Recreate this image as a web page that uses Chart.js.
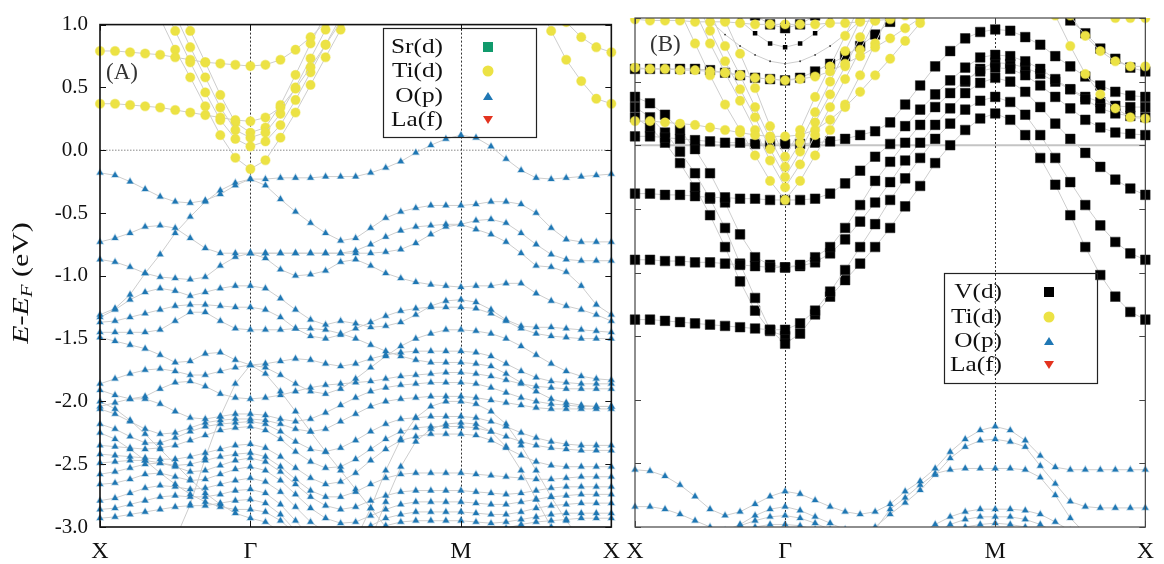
<!DOCTYPE html>
<html>
<head>
<meta charset="utf-8">
<script src="https://cdn.jsdelivr.net/npm/chart.js@4.4.0/dist/chart.umd.min.js"></script>
<style>
  body { margin: 0; background: #fff; }
  canvas { position: absolute; top: 0; }
  #panelA { left: 0; }
  #panelB { left: 615px; }
</style>
</head>
<body>
<canvas id="panelA" width="630" height="564"></canvas>
<canvas id="panelB" width="549" height="564"></canvas>
<script>
// k-path: 35 points, X(0) -> Γ(10) -> M(24) -> X(34)
const N = null;
const K_INDEX = [0, 10, 24, 34];
const K_LABEL = ['X', 'Γ', 'M', 'X'];
const NK = 35;
const Y_MIN = -3, Y_MAX = 1, Y_STEP = 0.5;

const LEGEND_A = ['Sr(d)', 'Ti(d)', 'O(p)', 'La(f)'];
const LEGEND_B = ['V(d)', 'Ti(d)', 'O(p)', 'La(f)'];

// ---- panel (A): Ti(d) bands ----
const aTi = [
  [0.79,0.79,0.78,0.77,0.76,0.74,0.72,0.70,0.69,0.68,0.67, 0.68,0.72,0.80,0.90,1.02,N,N,N,N,N,N,N,N,N, N,N,N,N,N,N,N,N,N,N],
  [0.37,0.37,0.36,0.35,0.34,0.32,0.30,0.28,0.26,0.24,0.23, 0.26,0.34,0.49,0.66,0.84,1.02,N,N,N,N,N,N,N,N, N,N,N,N,N,N,N,N,N,N],
  [N,N,N,N,1.05,0.80,0.58,0.35,0.12,-0.06,-0.15, -0.08,0.10,0.30,0.52,0.74,0.96,1.15,N,N,N,N,N,N,N, N,N,N,N,N,N,N,N,N,N],
  [N,N,N,N,1.20,0.95,0.70,0.46,0.24,0.09,0.03, 0.07,0.20,0.40,0.62,0.84,1.06,N,N,N,N,N,N,N,N, N,N,N,N,N,N,N,N,N,N],
  [N,N,N,N,N,1.08,0.82,0.58,0.34,0.16,0.10, 0.14,0.29,0.50,0.73,0.96,1.15,N,N,N,N,N,N,N,N, N,N,N,N,N,N,N,N,N,N],
  [N,N,N,N,N,1.20,0.95,0.70,0.44,0.22,0.14, 0.18,0.36,0.60,0.85,1.08,N,N,N,N,N,N,N,N,N, N,N,N,N,N,N,N,N,N,N],
  [N,N,N,N,N,N,N,N,N,N,N, N,N,N,N,N,N,N,N,N,N,N,N,N,N, N,N,N,N,N,1.12,1.02,0.90,0.82,0.78],
  [N,N,N,N,N,N,N,N,N,N,N, N,N,N,N,N,N,N,N,N,N,N,N,N,N, N,N,N,N,1.20,0.95,0.72,0.55,0.41,0.37]
];

// ---- panel (A): O(p) bands ----
const aO = [
  [-0.18,-0.20,-0.25,-0.31,-0.37,-0.41,-0.42,-0.40,-0.35,-0.28,-0.23, -0.23,-0.22,-0.22,-0.22,-0.21,-0.21,-0.21,-0.18,-0.14,-0.09,-0.02,0.04,0.09,0.12, 0.10,0.03,-0.07,-0.16,-0.22,-0.23,-0.22,-0.21,-0.20,-0.19],
  [-1.31,-1.26,-1.15,-0.98,-0.83,-0.66,-0.53,-0.41,-0.32,-0.26,-0.23, -0.28,-0.39,-0.49,-0.58,-0.66,-0.72,-0.70,-0.62,-0.54,-0.49,-0.46,-0.44,-0.44,-0.44, -0.43,-0.41,-0.41,-0.43,-0.50,-0.62,-0.71,-0.73,-0.73,-0.73],
  [-0.73,-0.70,-0.66,-0.61,-0.60,-0.62,-0.70,-0.78,-0.82,-0.82,-0.82, -0.82,-0.82,-0.82,-0.82,-0.82,-0.82,-0.82,-0.82,-0.81,-0.79,-0.74,-0.67,-0.61,-0.59, -0.63,-0.67,-0.73,-0.82,-0.92,-0.93,-0.97,-1.08,-1.23,-1.31],
  [-0.87,-0.89,-0.93,-0.98,-1.01,-1.02,-1.03,-1.01,-0.92,-0.85,-0.82, -0.86,-0.95,-1.00,-0.99,-0.96,-0.89,-0.87,-0.92,-0.98,-1.02,-1.05,-1.07,-1.08,-1.09, -1.08,-1.08,-1.06,-1.06,-1.14,-1.20,-1.24,-1.27,-1.31,-1.36],
  [-1.33,-1.27,-1.19,-1.13,-1.10,-1.12,-1.16,-1.13,-1.10,-1.08,-1.08, -1.10,-1.18,-1.27,-1.35,-1.39,-1.36,-1.38,-1.41,-1.40,-1.37,-1.31,-1.24,-1.20,-1.19, -1.21,-1.27,-1.35,-1.40,-1.41,-1.41,-1.42,-1.43,-1.44,-1.45],
  [-1.45,-1.45,-1.45,-1.45,-1.43,-1.36,-1.29,-1.29,-1.36,-1.42,-1.43, -1.43,-1.43,-1.42,-1.42,-1.43,-1.46,-1.50,-1.55,-1.60,-1.64,-1.67,-1.69,-1.69,-1.69, -1.70,-1.72,-1.78,-1.85,-1.92,-1.98,-2.01,-2.03,-2.04,-2.04],
  [-1.49,-1.52,-1.55,-1.58,-1.63,-1.69,-1.68,-1.62,-1.61,-1.67,-1.71, -1.70,-1.68,-1.66,-1.67,-1.70,-1.72,-1.70,-1.66,-1.63,-1.61,-1.60,-1.60,-1.60,-1.60, -1.61,-1.64,-1.70,-1.76,-1.81,-1.84,-1.85,-1.86,-1.86,-1.86],
  [-1.37,-1.36,-1.33,-1.30,-1.27,-1.24,-1.23,-1.23,-1.24,-1.25,-1.25, -1.27,-1.33,-1.42,-1.48,-1.50,-1.47,-1.42,-1.37,-1.32,-1.28,-1.26,-1.25,-1.25,-1.25, -1.26,-1.30,-1.36,-1.42,-1.46,-1.48,-1.49,-1.50,-1.50,-1.50],
  [-1.86,-1.82,-1.78,-1.75,-1.74,-1.76,-1.79,-1.79,-1.76,-1.73,-1.71, -1.73,-1.79,-1.86,-1.92,-1.94,-1.90,-1.82,-1.73,-1.64,-1.56,-1.50,-1.46,-1.43,-1.43, -1.44,-1.46,-1.50,-1.56,-1.63,-1.70,-1.76,-1.80,-1.82,-1.83],
  [-1.91,-1.95,-1.98,-1.96,-1.90,-1.85,-1.84,-1.88,-1.94,-1.97,-1.98, -1.97,-1.95,-1.92,-1.89,-1.87,-1.86,-1.85,-1.84,-1.82,-1.80,-1.79,-1.78,-1.77,-1.77, -1.78,-1.80,-1.83,-1.86,-1.88,-1.89,-1.90,-1.90,-1.90,-1.90],
  [-2.04,-2.01,-1.98,-1.98,-2.02,-2.08,-2.13,-2.14,-2.12,-2.10,-2.10, -2.11,-2.14,-2.16,-2.14,-2.09,-2.03,-1.97,-1.92,-1.89,-1.87,-1.86,-1.85,-1.85,-1.85, -1.86,-1.89,-1.93,-1.97,-2.00,-2.02,-2.03,-2.04,-2.04,-2.04],
  [-2.06,-2.10,-2.16,-2.22,-2.26,-2.25,-2.21,-2.17,-2.15,-2.14,-2.14, -2.15,-2.18,-2.22,-2.24,-2.22,-2.16,-2.10,-2.04,-2.00,-1.98,-1.97,-1.96,-1.96,-1.96, -1.97,-1.99,-2.01,-2.03,-2.05,-2.06,-2.06,-2.06,-2.06,-2.06],
  [-2.18,-2.22,-2.28,-2.33,-2.33,-2.29,-2.24,-2.20,-2.18,-2.17,-2.16, -2.18,-2.24,-2.32,-2.38,-2.40,-2.37,-2.31,-2.24,-2.18,-2.14,-2.13,-2.12,-2.12,-2.12, -2.13,-2.16,-2.20,-2.25,-2.29,-2.32,-2.34,-2.35,-2.35,-2.35],
  [-2.35,-2.36,-2.37,-2.38,-2.37,-2.35,-2.31,-2.27,-2.23,-2.21,-2.20, -2.23,-2.30,-2.40,-2.48,-2.53,-2.52,-2.46,-2.38,-2.30,-2.24,-2.21,-2.20,-2.20,-2.20, -2.21,-2.24,-2.28,-2.32,-2.35,-2.37,-2.38,-2.39,-2.39,-2.39],
  [-2.42,-2.43,-2.44,-2.45,-2.46,-2.46,-2.44,-2.41,-2.38,-2.35,-2.34, -2.37,-2.44,-2.53,-2.61,-2.66,-2.64,-2.57,-2.47,-2.38,-2.31,-2.28,-2.26,-2.26,-2.26, -2.27,-2.31,-2.37,-2.43,-2.48,-2.51,-2.52,-2.52,-2.52,-2.52],
  [-2.49,-2.48,-2.47,-2.47,-2.49,-2.51,-2.50,-2.47,-2.44,-2.42,-2.41, -2.44,-2.52,-2.62,-2.71,-2.76,-2.76,-2.72,-2.66,-2.61,-2.58,-2.57,-2.57,-2.57,-2.57, -2.58,-2.59,-2.60,-2.61,-2.62,-2.62,-2.61,-2.60,-2.60,-2.60],
  [-2.58,-2.56,-2.53,-2.50,-2.49,-2.52,-2.56,-2.55,-2.51,-2.47,-2.45, -2.48,-2.56,-2.66,-2.76,-2.83,-2.86,-2.84,-2.79,-2.75,-2.72,-2.71,-2.71,-2.71,-2.71, -2.72,-2.73,-2.74,-2.73,-2.71,-2.69,-2.68,-2.68,-2.68,-2.68],
  [-2.66,-2.65,-2.62,-2.58,-2.57,-2.60,-2.63,-2.62,-2.58,-2.54,-2.52, -2.55,-2.63,-2.74,-2.85,-2.93,-2.97,-2.96,-2.91,-2.86,-2.82,-2.80,-2.80,-2.80,-2.80, -2.81,-2.82,-2.82,-2.80,-2.78,-2.76,-2.75,-2.74,-2.74,-2.74],
  [-2.79,-2.77,-2.73,-2.69,-2.67,-2.68,-2.70,-2.69,-2.66,-2.63,-2.61, -2.64,-2.72,-2.84,-2.96,-3.04,-3.08,-3.05,-2.99,-2.93,-2.90,-2.88,-2.88,-2.88,-2.88, -2.89,-2.90,-2.90,-2.88,-2.85,-2.83,-2.82,-2.81,-2.81,-2.81],
  [-2.86,-2.85,-2.82,-2.79,-2.76,-2.75,-2.76,-2.76,-2.74,-2.71,-2.70, -2.73,-2.82,-2.95,-3.08,-3.14,-3.15,-3.12,-3.05,-2.99,-2.96,-2.95,-2.95,-2.95,-2.95, -2.96,-2.97,-2.96,-2.94,-2.92,-2.90,-2.89,-2.89,-2.89,-2.89],
  [-2.93,-2.92,-2.90,-2.88,-2.86,-2.84,-2.83,-2.83,-2.81,-2.79,-2.78, -2.81,-2.90,-3.03,-3.15,N,N,N,N,N,N,N,N,N,N, -3.08,-3.04,-3.01,-2.98,-2.96,-2.95,-2.94,-2.93,-2.93,-2.93],
  [-2.25,-2.30,-2.38,-2.47,-2.57,-2.66,-2.74,-2.80,-2.84,-2.86,-2.86, -2.88,-2.95,-3.05,N,N,N,N,N,N,N,N,N,N,N, N,N,N,N,N,N,N,N,N,N],
  [-2.00,-2.06,-2.15,-2.26,-2.38,-2.50,-2.62,-2.73,-2.82,-2.89,-2.93, -2.96,-3.04,N,N,N,N,N,N,N,N,N,N,N,N, N,N,N,N,N,N,N,N,N,N],
  [N,N,N,N,N,-3.10,-2.82,-2.45,-2.12,-1.86,-1.71, -1.78,-1.92,-2.08,-2.24,-2.40,-2.55,-2.70,-2.85,-3.00,-3.15,N,N,N,N, N,N,N,N,N,N,N,N,N,N],
  [N,N,N,N,N,N,N,N,N,N,N, N,N,N,N,N,N,-3.10,-2.85,-2.55,-2.30,-2.13,-2.04,-2.00,-2.00, -2.02,-2.08,-2.18,-2.35,-2.55,-2.76,-2.95,-3.10,N,N],
  [N,N,N,N,N,N,N,N,N,N,N, N,N,N,N,N,N,N,-3.10,-2.80,-2.52,-2.32,-2.22,-2.18,-2.17, -2.18,-2.24,-2.36,-2.55,-2.78,-3.00,-3.15,N,N,N],
  [N,N,N,N,N,N,N,N,N,N,-0.82, -0.82,-0.82,-0.82,-0.82,-0.82,-0.82,-0.80,-0.75,-0.69,-0.64,-0.61,-0.60,-0.59,-0.59, -0.56,-0.55,-0.58,-0.66,-0.75,-0.83,-0.87,-0.88,-0.88,-0.88]
];

// ---- panel (B): Ti(d) bands ----
const bTi = [
  [0.99,0.98,0.98,0.98,0.97,0.97,0.97,0.96,0.95,0.95,0.95, 0.95,0.95,0.96,0.96,0.97,0.98,0.99,1.02,1.05,N,N,N,N,N, N,N,N,N,N,N,N,N,N,N],
  [0.61,0.60,0.60,0.59,0.59,0.58,0.57,0.55,0.53,0.52,0.51, 0.52,0.54,0.58,0.64,0.70,0.77,0.84,0.92,1.00,1.08,N,N,N,N, N,N,N,N,N,N,N,N,N,N],
  [0.19,0.19,0.18,0.17,0.16,0.14,0.12,0.10,0.08,0.07,0.07, 0.08,0.12,0.20,0.30,0.42,0.55,0.68,0.82,0.96,1.10,N,N,N,N, N,N,N,N,N,N,N,N,N,N],
  [N,N,N,1.05,0.80,0.55,0.32,0.12,-0.08,-0.28,-0.43, -0.28,-0.08,0.12,0.32,0.55,0.80,1.05,N,N,N,N,N,N,N, N,N,N,N,N,N,N,N,N,N],
  [N,N,N,N,1.05,0.80,0.57,0.35,0.12,-0.12,-0.33, -0.15,0.08,0.30,0.52,0.75,0.98,1.20,N,N,N,N,N,N,N, N,N,N,N,N,N,N,N,N,N],
  [N,N,N,N,1.15,0.90,0.66,0.44,0.22,-0.03,-0.25, -0.05,0.18,0.40,0.62,0.85,1.08,N,N,N,N,N,N,N,N, N,N,N,N,N,N,N,N,N,N],
  [N,N,N,N,N,1.05,0.78,0.55,0.30,0.05,-0.17, 0.02,0.26,0.50,0.74,0.98,1.20,N,N,N,N,N,N,N,N, N,N,N,N,N,N,N,N,N,N],
  [N,N,N,N,N,1.25,0.98,0.72,0.45,0.15,-0.09, 0.12,0.38,0.62,0.86,1.10,N,N,N,N,N,N,N,N,N, N,N,N,N,N,N,N,N,N,N],
  [N,N,N,N,N,N,N,N,N,N,N, N,N,N,N,N,N,N,N,N,N,N,N,N,N, N,N,N,1.02,0.78,0.56,0.40,0.29,0.22,0.21],
  [N,N,N,N,N,N,N,N,N,N,N, N,N,N,N,N,N,N,N,N,N,N,N,N,N, N,N,N,N,1.02,0.86,0.74,0.66,0.62,0.62],
  [N,N,N,N,N,N,N,N,N,N,N, N,N,N,N,N,N,N,N,N,N,N,N,N,N, N,N,N,N,N,N,1.10,1.00,1.00,1.00]
];

// ---- panel (B): V(d) bands ----
const bV = [
  [0.60,0.60,0.60,0.60,0.60,0.59,0.57,0.55,0.53,0.52,0.51, 0.53,0.58,0.64,0.70,0.78,0.87,0.97,1.08,N,N,N,N,N,N, N,N,N,N,N,N,N,N,N,N],
  [0.07,0.07,0.06,0.05,0.04,0.03,0.02,0.02,0.01,0.01,0.01, 0.01,0.02,0.03,0.05,0.08,0.11,0.18,0.32,0.47,0.62,0.74,0.84,0.89,0.91, 0.90,0.85,0.79,0.70,0.62,0.54,0.47,0.42,0.39,0.38],
  [-0.38,-0.38,-0.39,-0.39,-0.40,-0.41,-0.41,-0.42,-0.42,-0.43,-0.43, -0.43,-0.42,-0.38,-0.30,-0.20,-0.09,0.01,0.15,0.28,0.40,0.51,0.61,0.69,0.71, 0.70,0.66,0.60,0.52,0.44,0.36,0.29,0.25,0.23,0.22],
  [-0.90,-0.90,-0.91,-0.91,-0.92,-0.92,-0.93,-0.94,-0.95,-0.96,-0.96, -0.94,-0.88,-0.80,-0.65,-0.47,-0.28,-0.13,0.02,0.16,0.30,0.41,0.51,0.58,0.61, 0.60,0.55,0.47,0.38,0.29,0.20,0.14,0.10,0.09,0.08],
  [0.38,0.33,0.24,0.12,-0.03,-0.22,-0.45,-0.70,-0.88,-0.94,-0.96, -0.95,-0.92,-0.85,-0.74,-0.60,-0.45,-0.29,-0.12,0.02,0.16,0.29,0.41,0.49,0.53, 0.50,0.42,0.30,0.17,0.05,-0.06,-0.17,-0.27,-0.34,-0.39],
  [-1.37,-1.37,-1.38,-1.39,-1.40,-1.41,-1.42,-1.43,-1.44,-1.45,-1.45, -1.40,-1.30,-1.15,-0.98,-0.80,-0.62,-0.43,-0.26,-0.10,0.05,0.17,0.28,0.35,0.38, 0.34,0.24,0.08,-0.10,-0.29,-0.47,-0.63,-0.76,-0.85,-0.90],
  [0.30,0.22,0.10,-0.05,-0.22,-0.42,-0.65,-0.93,-1.20,-1.45,-1.56, -1.48,-1.33,-1.19,-1.06,-0.93,-0.80,-0.65,-0.48,-0.32,-0.14,0.00,0.12,0.21,0.25, 0.20,0.08,-0.10,-0.31,-0.55,-0.80,-1.02,-1.19,-1.31,-1.37],
  [0.22,0.14,0.02,-0.14,-0.33,-0.55,-0.80,-1.07,-1.30,-1.46,-1.50, N,N,N,N,N,N,N,N,N,N,N,N,N,N, N,N,N,N,N,N,N,N,N,N],
  [N,N,N,N,N,N,N,N,N,N,N, N,N,N,N,N,N,N,N,N,N,N,0.50,0.60,0.65, 0.64,0.61,0.56,0.50,0.44,0.38,0.34,0.31,0.30,0.30],
  [N,N,N,N,N,N,N,N,N,N,N, N,N,N,N,N,N,N,N,N,N,N,N,N,N, N,N,N,1.06,0.98,0.88,0.76,0.68,0.61,0.58],
  [N,N,N,N,N,N,N,N,1.02,0.95,0.92, 0.95,1.02,N,N,N,N,N,N,N,N,N,N,N,N, N,N,N,N,N,N,N,N,N,N]
];
// weak V(d) weight near Γ
const bVsmall = [
  [N,N,N,N,N,N,1.10,0.98,0.88,0.80,0.77, 0.80,0.88,0.98,1.10,N,N,N,N,N,N,N,N,N,N, N,N,N,N,N,N,N,N,N,N]
];
const bVtiny = [
  [N,N,N,N,1.10,0.98,0.87,0.78,0.71,0.66,0.64, 0.66,0.71,0.78,0.87,0.98,1.10,N,N,N,N,N,N,N,N, N,N,N,N,N,N,N,N,N,N]
];

// ---- panel (B): O(p) bands ----
const bO = [
  [-2.55,-2.56,-2.60,-2.67,-2.76,-2.86,-2.91,-2.88,-2.82,-2.76,-2.72, -2.74,-2.79,-2.84,-2.88,-2.90,-2.88,-2.82,-2.72,-2.64,-2.54,-2.41,-2.31,-2.24,-2.21, -2.24,-2.32,-2.44,-2.53,-2.55,-2.55,-2.55,-2.55,-2.55,-2.55],
  [-2.84,-2.84,-2.86,-2.90,-2.95,-3.00,-3.03,-2.98,-2.91,-2.86,-2.84, -2.87,-2.92,-2.97,-3.02,-3.06,-3.00,-2.90,-2.81,-2.71,-2.59,-2.46,-2.37,-2.32,-2.31, -2.33,-2.37,-2.52,-2.66,-2.80,-2.84,-2.85,-2.85,-2.85,-2.85],
  [N,N,N,N,N,N,N,N,N,N,N, N,N,N,N,N,-3.02,-2.86,-2.77,-2.67,-2.58,-2.55,-2.54,-2.54,-2.54, -2.54,-2.55,-2.61,-2.75,-2.93,-3.05,N,N,N,N],
  [N,N,N,N,N,N,-3.05,-2.99,-2.95,-2.92,-2.91, -2.93,-2.97,-3.02,N,N,N,N,N,N,N,N,N,N,N, N,N,N,N,N,N,N,N,N,N],
  [N,N,N,N,N,N,N,-3.05,-3.00,-2.98,-2.98, -2.99,-3.02,N,N,N,N,N,N,N,N,N,N,N,N, N,N,N,N,N,N,N,N,N,N],
  [N,N,N,N,N,N,N,N,N,N,N, N,N,N,N,N,N,N,N,-3.05,-2.98,-2.92,-2.88,-2.86,-2.86, -2.86,-2.87,-2.90,-2.96,-3.03,N,N,N,N,N],
  [N,N,N,N,N,N,N,N,N,N,N, N,N,N,N,N,N,N,N,N,-3.05,-2.98,-2.94,-2.92,-2.92, -2.92,-2.94,-2.98,-3.04,N,N,N,N,N,N],
  [N,N,N,N,N,N,N,N,N,N,N, N,N,N,N,N,N,N,N,N,N,-3.04,-3.00,-2.98,-2.97, -2.98,-3.00,-3.04,N,N,N,N,N,N,N]
];

// ---- styles ----
const SERIF = '"Liberation Serif", "DejaVu Serif", serif';
const COL = { sr: '#119a6c', ti: '#ece244', o: '#1f77b4', la: '#e3331f', v: '#000000' };
const STYLE = {
  ti:  { pointStyle: 'circle', pointRadius: 4.6, pointBackgroundColor: COL.ti, pointBorderColor: 'rgba(236,226,68,0.45)', pointBorderWidth: 1.2 },
  o:   { pointStyle: 'triangle', pointRadius: 3.6, pointBackgroundColor: COL.o, pointBorderColor: 'rgba(31,119,180,0.30)', pointBorderWidth: 1.4 },
  v:   { pointStyle: 'rect', pointRadius: 6.8, pointBackgroundColor: COL.v, pointBorderColor: '#222', pointBorderWidth: 0.5 },
  vs:  { pointStyle: 'rect', pointRadius: 3.2, pointBackgroundColor: COL.v, pointBorderColor: '#222', pointBorderWidth: 0 },
  vt:  { pointStyle: 'circle', pointRadius: 0.9, pointBackgroundColor: '#333', pointBorderColor: '#333', pointBorderWidth: 0 }
};

const kLabels = [];
for (let i = 0; i < NK; i++) {
  const j = K_INDEX.indexOf(i);
  kLabels.push(j >= 0 ? K_LABEL[j] : '');
}

function bandSets(bands, style) {
  return bands.map(b => Object.assign({
    data: b,
    borderColor: '#cdcdcd',
    borderWidth: 1,
    tension: 0,
    spanGaps: false,
    fill: false
  }, STYLE[style]));
}

// draw frame, inward ticks, Γ/M lines, zero line, legend, labels
const framePlugin = {
  id: 'frame',
  beforeDatasetsDraw(chart, args, o) {
    const { ctx, chartArea: a, scales: { x, y } } = chart;
    ctx.save();
    const y0 = y.getPixelForValue(0);
    ctx.strokeStyle = o.zeroColor;
    ctx.lineWidth = o.zeroWidth;
    ctx.setLineDash(o.zeroDash);
    ctx.beginPath(); ctx.moveTo(a.left, y0); ctx.lineTo(a.right, y0); ctx.stroke();
    ctx.setLineDash([2, 2]);
    ctx.strokeStyle = '#333';
    ctx.lineWidth = 1;
    [K_INDEX[1], K_INDEX[2]].forEach(k => {
      const px = Math.round(x.getPixelForValue(k)) + 0.5;
      ctx.beginPath(); ctx.moveTo(px, a.top); ctx.lineTo(px, a.bottom); ctx.stroke();
    });
    ctx.restore();
  },
  afterDatasetsDraw(chart, args, o) {
    const { ctx, chartArea: a, scales: { x, y } } = chart;
    ctx.save();
    ctx.setLineDash([]);
    ctx.strokeStyle = o.frameColor;
    ctx.lineWidth = o.frameWidth;
    ctx.strokeRect(a.left, a.top, a.right - a.left, a.bottom - a.top);
    ctx.lineWidth = 1;
    y.ticks.forEach(t => {
      const py = Math.round(y.getPixelForValue(t.value)) + 0.5;
      ctx.beginPath();
      ctx.moveTo(a.left, py); ctx.lineTo(a.left + 6, py);
      ctx.moveTo(a.right, py); ctx.lineTo(a.right - 6, py);
      ctx.stroke();
    });
    K_INDEX.forEach(k => {
      const px = Math.round(x.getPixelForValue(k)) + 0.5;
      ctx.beginPath();
      ctx.moveTo(px, a.top); ctx.lineTo(px, a.top + 6);
      ctx.moveTo(px, a.bottom); ctx.lineTo(px, a.bottom - 6);
      ctx.stroke();
    });

    // legend
    const L = o.legend;
    ctx.strokeStyle = '#222';
    ctx.lineWidth = 1.2;
    ctx.strokeRect(L.x0 + 0.5, L.y0 + 0.5, L.x1 - L.x0, L.y1 - L.y0);
    ctx.font = '22px ' + SERIF;
    ctx.textAlign = 'right';
    ctx.textBaseline = 'middle';
    L.items.forEach((name, i) => {
      const ry = L.rows[i];
      ctx.save();
      ctx.fillStyle = '#111';
      ctx.translate(L.textRight, ry);
      ctx.scale(1.15, 1);
      ctx.fillText(name, 0, 0);
      ctx.restore();
      const sx = L.symbolX;
      const m = L.marks[i];
      ctx.beginPath();
      if (m === 'square') {
        ctx.fillStyle = L.squareColor;
        ctx.fillRect(sx - 5, ry - 5, 10, 10);
      } else if (m === 'circle') {
        ctx.fillStyle = COL.ti;
        ctx.arc(sx, ry, 5.5, 0, Math.PI * 2); ctx.fill();
      } else if (m === 'tri') {
        ctx.fillStyle = COL.o;
        ctx.moveTo(sx - 5, ry + 4); ctx.lineTo(sx + 5, ry + 4); ctx.lineTo(sx, ry - 4); ctx.closePath(); ctx.fill();
      } else {
        ctx.fillStyle = COL.la;
        ctx.moveTo(sx - 5, ry - 4); ctx.lineTo(sx + 5, ry - 4); ctx.lineTo(sx, ry + 4); ctx.closePath(); ctx.fill();
      }
    });

    // panel tag
    ctx.textAlign = 'left';
    ctx.fillStyle = '#333';
    ctx.font = '23px ' + SERIF;
    ctx.fillText(o.tag.text, o.tag.x, o.tag.y);

    // y title E-E_F (eV)
    if (o.yTitle) {
      ctx.translate(o.yTitle.x, o.yTitle.y);
      ctx.rotate(-Math.PI / 2);
      ctx.scale(1.3, 1);
      ctx.fillStyle = '#111';
      const f1 = 'italic 23px ' + SERIF, f2 = 'italic 16px ' + SERIF, f3 = '23px ' + SERIF;
      ctx.font = f1; const w1 = ctx.measureText('E-E').width;
      ctx.font = f2; const w2 = ctx.measureText('F').width;
      ctx.font = f3; const w3 = ctx.measureText(' (eV)').width;
      let cx = -(w1 + w2 + w3) / 2;
      ctx.textAlign = 'left';
      ctx.font = f1; ctx.fillText('E-E', cx, 0); cx += w1;
      ctx.font = f2; ctx.fillText('F', cx, 6); cx += w2;
      ctx.font = f3; ctx.fillText(' (eV)', cx, 0);
    }
    ctx.restore();
  }
};

function makeChart(id, datasets, yLabels, axisWidth, padRight, frameOpts) {
  return new Chart(document.getElementById(id), {
    type: 'line',
    data: { labels: kLabels, datasets: datasets },
    options: {
      responsive: false,
      animation: false,
      devicePixelRatio: 1,
      events: [],
      layout: { padding: { top: 18, right: padRight, left: 0, bottom: 0 } },
      plugins: { legend: { display: false }, tooltip: { enabled: false }, frame: frameOpts },
      scales: {
        x: {
          type: 'category',
          offset: false,
          grid: { display: false, drawTicks: false },
          border: { display: false },
          ticks: { autoSkip: false, maxRotation: 0, padding: 10, color: '#111', font: { family: SERIF, size: 24 } },
          afterFit: s => { s.height = 37; }
        },
        y: {
          type: 'linear',
          min: Y_MIN, max: Y_MAX,
          grid: { display: false, drawTicks: false },
          border: { display: false },
          ticks: {
            display: yLabels,
            stepSize: Y_STEP,
            padding: 12,
            color: '#111',
            font: { family: SERIF, size: 21 },
            callback: v => v.toFixed(1)
          },
          afterFit: s => { s.width = axisWidth; }
        }
      }
    },
    plugins: [framePlugin]
  });
}

makeChart('panelA',
  [...bandSets(aTi, 'ti'), ...bandSets(aO, 'o')],
  true, 100, 18,
  {
    zeroColor: '#888', zeroWidth: 1, zeroDash: [1.5, 1.5],
    frameColor: '#111', frameWidth: 1.6,
    legend: {
      x0: 383, y0: 28, x1: 536, y1: 137, textRight: 443, symbolX: 488,
      rows: [47, 71, 96, 120], items: LEGEND_A,
      marks: ['square', 'circle', 'tri', 'inv'], squareColor: COL.sr
    },
    tag: { text: '(A)', x: 106, y: 73 },
    yTitle: { x: 22, y: 283 }
  });

makeChart('panelB',
  [...bandSets(bTi, 'ti'), ...bandSets(bV, 'v'), ...bandSets(bVsmall, 'vs'), ...bandSets(bVtiny, 'vt'), ...bandSets(bO, 'o')],
  false, 20, 17,
  {
    zeroColor: '#c4c4c4', zeroWidth: 2, zeroDash: [],
    frameColor: '#444', frameWidth: 1.2,
    legend: {
      x0: 329, y0: 273, x1: 482, y1: 383, textRight: 387, symbolX: 434,
      rows: [292, 317, 341, 365], items: LEGEND_B,
      marks: ['square', 'circle', 'tri', 'inv'], squareColor: COL.v
    },
    tag: { text: '(B)', x: 35, y: 45 },
    yTitle: null
  });
</script>
</body>
</html>
